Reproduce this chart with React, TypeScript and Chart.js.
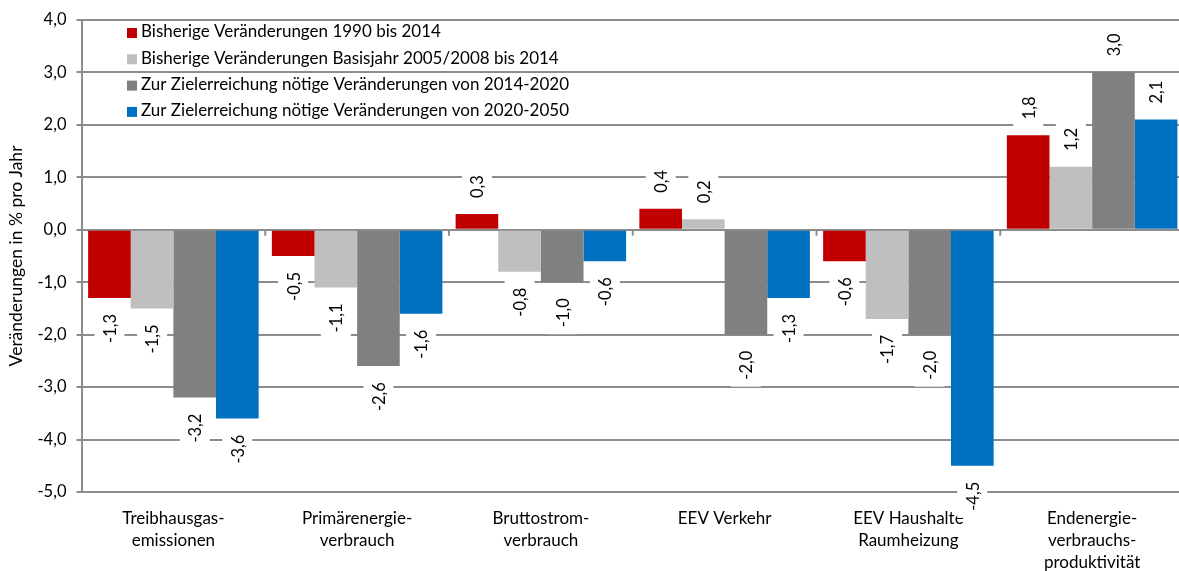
import React, { useEffect, useRef } from "react";
import { Chart, registerables } from "chart.js";

Chart.register(...registerables);

const categories: string[][] = [
  ["Treibhausgas-", "emissionen"],
  ["Primärenergie-", "verbrauch"],
  ["Bruttostrom-", "verbrauch"],
  ["EEV Verkehr"],
  ["EEV Haushalte", "Raumheizung"],
  ["Endenergie-", "verbrauchs-", "produktivität"],
];

const seriesLabels = [
  "Bisherige Veränderungen 1990 bis 2014",
  "Bisherige Veränderungen Basisjahr 2005/2008 bis 2014",
  "Zur Zielerreichung nötige Veränderungen von 2014-2020",
  "Zur Zielerreichung nötige Veränderungen von 2020-2050",
];

const values1990to2014 = [-1.3, -0.5, 0.3, 0.4, -0.6, 1.8];
const valuesBasisTo2014 = [-1.5, -1.1, -0.8, 0.2, -1.7, 1.2];
const values2014to2020 = [-3.2, -2.6, -1.0, -2.0, -2.0, 3.0];
const values2020to2050 = [-3.6, -1.6, -0.6, -1.3, -4.5, 2.1];

const seriesColors = ["#C00000", "#BFBFBF", "#808080", "#0070C0"];

const yMin = -5;
const yMax = 4;
const yStep = 1;
const yTitle = "Veränderungen in % pro Jahr";

const FONT = "Lato, 'Open Sans', sans-serif";
const GRID = "#8c8c8c";

const fmt = (v: number) => v.toFixed(1).replace(".", ",");

const zeroTicksPlugin = {
  id: "zeroTicks",
  beforeDatasetsDraw(chart: any) {
    const x = chart.scales.x;
    const y = chart.scales.y;
    const ctx = chart.ctx;
    const y0 = y.getPixelForValue(0);
    ctx.save();
    ctx.strokeStyle = GRID;
    ctx.lineWidth = 2;
    for (let i = 1; i < categories.length; i++) {
      const px = (x.getPixelForTick(i - 1) + x.getPixelForTick(i)) / 2;
      ctx.beginPath();
      ctx.moveTo(px, y0);
      ctx.lineTo(px, y0 + 6);
      ctx.stroke();
    }
    ctx.restore();
  },
};

const barLabelPlugin = {
  id: "barLabels",
  afterDatasetsDraw(chart: any) {
    const ctx = chart.ctx;
    ctx.save();
    ctx.font = `16.5px ${FONT}`;
    chart.data.datasets.forEach((ds: any, di: number) => {
      const meta = chart.getDatasetMeta(di);
      meta.data.forEach((bar: any, i: number) => {
        const v = ds.data[i] as number;
        const text = fmt(v);
        const w = ctx.measureText(text).width;
        const gap = 16;
        const cy = v >= 0 ? bar.y - gap - w / 2 : bar.y + gap + w / 2;
        const bw = 30;
        const bh = w + 14;
        ctx.fillStyle = "#ffffff";
        ctx.fillRect(bar.x - bw / 2, cy - bh / 2, bw, bh);
        ctx.save();
        ctx.translate(bar.x, cy);
        ctx.rotate(-Math.PI / 2);
        ctx.fillStyle = "#000000";
        ctx.textAlign = "center";
        ctx.textBaseline = "middle";
        ctx.fillText(text, 0, 1);
        ctx.restore();
      });
    });
    ctx.restore();
  },
};

const legendPlugin = {
  id: "innerLegend",
  afterDraw(chart: any) {
    const ctx = chart.ctx;
    ctx.save();
    ctx.font = `17px ${FONT}`;
    ctx.textBaseline = "middle";
    ctx.textAlign = "left";
    chart.data.datasets.forEach((ds: any, di: number) => {
      const cy = 33 + di * 26.3;
      ctx.fillStyle = ds.backgroundColor;
      ctx.fillRect(127, cy - 5, 10, 10);
      ctx.fillStyle = "#000000";
      ctx.fillText(ds.label, 141, cy - 1);
    });
    ctx.restore();
  },
};

export default function App() {
  const ref = useRef<HTMLCanvasElement | null>(null);

  useEffect(() => {
    if (!ref.current) return;
    const datasets = [values1990to2014, valuesBasisTo2014, values2014to2020, values2020to2050].map(
      (data, i) => ({
        label: seriesLabels[i],
        data,
        backgroundColor: seriesColors[i],
        borderWidth: 0,
        barPercentage: 1.0,
        categoryPercentage: 0.928,
      })
    );
    const chart = new Chart(ref.current, {
      type: "bar",
      data: { labels: categories, datasets },
      options: {
        responsive: false,
        animation: false,
        devicePixelRatio: 1,
        layout: { padding: { top: 16, left: 0, right: 2, bottom: 0 } },
        plugins: {
          legend: { display: false },
          tooltip: { enabled: false },
        },
        scales: {
          x: {
            z: 1,
            grid: { display: false, drawTicks: false },
            border: { display: false },
            ticks: {
              color: "#000",
              font: { family: FONT, size: 17, lineHeight: 1.3 },
              padding: 15,
              maxRotation: 0,
              autoSkip: false,
            },
            afterFit: (s: any) => {
              s.height = 79;
            },
          },
          y: {
            min: yMin,
            max: yMax,
            ticks: {
              stepSize: yStep,
              color: "#000",
              font: { family: FONT, size: 16.5 },
              padding: 10,
              callback: (v: any) => fmt(Number(v)),
            },
            grid: { color: GRID, lineWidth: 2, tickLength: 5, drawTicks: true },
            border: { display: true, color: GRID, width: 2 },
            title: {
              display: true,
              text: yTitle,
              color: "#000",
              font: { family: FONT, size: 17.5 },
              padding: { top: 6, bottom: 0 },
            },
            afterFit: (s: any) => {
              s.width = 81.5;
            },
          },
        },
      },
      plugins: [zeroTicksPlugin, barLabelPlugin, legendPlugin],
    });
    return () => chart.destroy();
  }, []);

  return (
    <div
      style={{
        position: "fixed",
        left: 0,
        top: 0,
        width: 1179,
        height: 571,
        overflow: "hidden",
        background: "#fff",
      }}
    >
      <canvas ref={ref} width={1186} height={571} style={{ display: "block" }} />
    </div>
  );
}
